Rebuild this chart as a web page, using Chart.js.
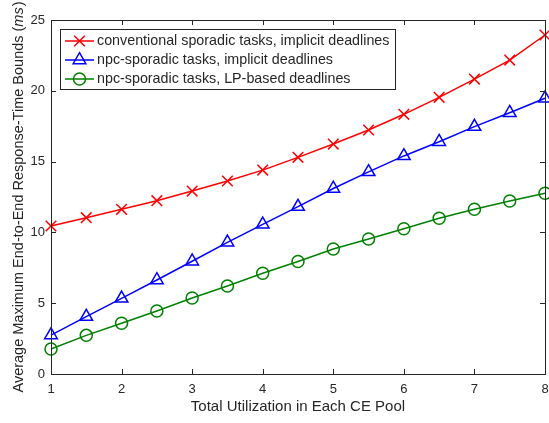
<!DOCTYPE html>
<html>
<head>
<meta charset="utf-8">
<script src="https://cdn.jsdelivr.net/npm/chart.js@4.4.1/dist/chart.umd.min.js"></script>
<style>
html,body{margin:0;padding:0;background:#fff;}
#c{display:block;}
</style>
</head>
<body>
<canvas id="c" width="549" height="423"></canvas>
<script>
const utilization = [1, 1.5, 2, 2.5, 3, 3.5, 4, 4.5, 5, 5.5, 6, 6.5, 7, 7.5, 8];
const conventionalImplicit = [10.45, 11.04, 11.63, 12.24, 12.92, 13.63, 14.4, 15.3, 16.24, 17.23, 18.34, 19.54, 20.83, 22.17, 23.94];
const npcImplicit = [2.75, 4.05, 5.34, 6.64, 7.96, 9.3, 10.57, 11.82, 13.1, 14.27, 15.4, 16.4, 17.47, 18.45, 19.47];
const npcLP = [1.77, 2.73, 3.58, 4.45, 5.37, 6.21, 7.11, 7.95, 8.83, 9.53, 10.26, 11.0, 11.63, 12.22, 12.76];
const seriesNames = ['conventional sporadic tasks, implicit deadlines', 'npc-sporadic tasks, implicit deadlines', 'npc-sporadic tasks, LP-based deadlines'];
const xTicks = [1, 2, 3, 4, 5, 6, 7, 8];
const yTicks = [0, 5, 10, 15, 20, 25];
const xTitle = 'Total Utilization in Each CE Pool';
const yTitleMain = 'Average Maximum End-to-End Response-Time Bounds (';
const yTitleUnit = 'ms';
const yTitleEnd = ')';

const FONT = '"Liberation Sans", Arial, Helvetica, sans-serif';
const AX = '#262626';
const colors = ['#ff0000', '#0000ff', '#008000'];
const styles = ['crossRot', 'triangle', 'circle'];
const radii = [7.5, 7.3, 6];

function pts(ys){ return utilization.map((x,i)=>({x:x, y:ys[i]})); }
const allSeries = [conventionalImplicit, npcImplicit, npcLP];

const datasets = allSeries.map((s,i)=>({
  label: seriesNames[i],
  data: pts(s),
  borderColor: colors[i],
  backgroundColor: 'rgba(0,0,0,0)',
  borderWidth: 1.5,
  pointStyle: styles[i],
  pointRadius: radii[i],
  pointBorderWidth: 1.5,
  pointBorderColor: colors[i],
  pointBackgroundColor: 'rgba(0,0,0,0)',
  tension: 0,
  clip: false
}));

const framePlugin = {
  id: 'frame',
  afterDraw(chart){
    const ctx = chart.ctx;
    const a = chart.chartArea;
    const xs = chart.scales.x, ys = chart.scales.y;
    ctx.save();
    ctx.strokeStyle = AX;
    ctx.lineWidth = 1;
    ctx.strokeRect(Math.round(a.left)+0.5, Math.round(a.top)+0.5, Math.round(a.right-a.left), Math.round(a.bottom-a.top));
    const tl = 5;
    ctx.beginPath();
    xTicks.forEach(v=>{
      const px = Math.round(xs.getPixelForValue(v))+0.5;
      ctx.moveTo(px, a.bottom); ctx.lineTo(px, a.bottom-tl);
      ctx.moveTo(px, a.top); ctx.lineTo(px, a.top+tl);
    });
    yTicks.forEach(v=>{
      const py = Math.round(ys.getPixelForValue(v))+0.5;
      ctx.moveTo(a.left, py); ctx.lineTo(a.left+tl, py);
      ctx.moveTo(a.right, py); ctx.lineTo(a.right-tl, py);
    });
    ctx.stroke();

    ctx.fillStyle = AX;
    ctx.font = '15px ' + FONT;
    ctx.textAlign = 'center';
    ctx.textBaseline = 'alphabetic';
    ctx.fillText(xTitle, (a.left+a.right)/2, 411);

    ctx.save();
    ctx.translate(23, (a.top+a.bottom)/2);
    ctx.rotate(-Math.PI/2);
    ctx.textAlign = 'left';
    ctx.textBaseline = 'alphabetic';
    const fN = '14.5px ' + FONT, fI = 'italic 14.5px ' + FONT;
    ctx.font = fN; const w1 = ctx.measureText(yTitleMain).width;
    ctx.font = fI; const w2 = ctx.measureText(yTitleUnit).width + 1;
    ctx.font = fN; const w3 = ctx.measureText(yTitleEnd).width;
    let x0 = -(w1+w2+w3)/2;
    ctx.font = fN; ctx.fillText(yTitleMain, x0, 0);
    ctx.font = fI; ctx.fillText(yTitleUnit, x0+w1, 0);
    ctx.font = fN; ctx.fillText(yTitleEnd, x0+w1+w2, 0);
    ctx.restore();

    const lx = 60.5, ly = 29.5, lw = 335, lh = 60;
    ctx.fillStyle = '#ffffff';
    ctx.fillRect(lx, ly, lw, lh);
    ctx.strokeStyle = AX;
    ctx.lineWidth = 1;
    ctx.strokeRect(lx, ly, lw, lh);
    const rows = [41, 60, 79];
    chart.data.datasets.forEach((ds,i)=>{
      const y = rows[i];
      ctx.strokeStyle = ds.borderColor;
      ctx.lineWidth = 1.5;
      ctx.beginPath(); ctx.moveTo(65, y); ctx.lineTo(94, y); ctx.stroke();
      ctx.fillStyle = 'rgba(0,0,0,0)';
      Chart.helpers.drawPoint(ctx, {pointStyle: ds.pointStyle, radius: ds.pointRadius, borderWidth: 1.5}, 79.5, y);
      ctx.fillStyle = AX;
      ctx.font = '14.3px ' + FONT;
      ctx.textAlign = 'left';
      ctx.textBaseline = 'middle';
      ctx.fillText(ds.label, 97, y + 0.5);
    });
    ctx.restore();
  }
};

new Chart(document.getElementById('c'), {
  type: 'line',
  data: { datasets },
  options: {
    responsive: false,
    animation: false,
    devicePixelRatio: 1,
    layout: { autoPadding: false, padding: { top: 20, right: 4, left: 0, bottom: 0 } },
    plugins: { legend: { display: false }, tooltip: { enabled: false } },
    scales: {
      x: {
        type: 'linear', min: 1, max: 8,
        afterBuildTicks: s => { s.ticks = xTicks.map(v=>({value:v})); },
        afterFit: s => { s.height = 49; s.paddingLeft = 0; s.paddingRight = 0; },
        grid: { display: false, drawTicks: false },
        border: { display: false },
        ticks: { color: AX, font: { size: 13, family: FONT }, padding: 8, maxRotation: 0 }
      },
      y: {
        min: 0, max: 25,
        afterBuildTicks: s => { s.ticks = yTicks.map(v=>({value:v})); },
        afterFit: s => { s.width = 51; s.paddingTop = 0; s.paddingBottom = 0; },
        grid: { display: false, drawTicks: false },
        border: { display: false },
        ticks: { color: AX, font: { size: 13, family: FONT }, padding: 6 }
      }
    }
  },
  plugins: [framePlugin]
});
</script>
</body>
</html>
